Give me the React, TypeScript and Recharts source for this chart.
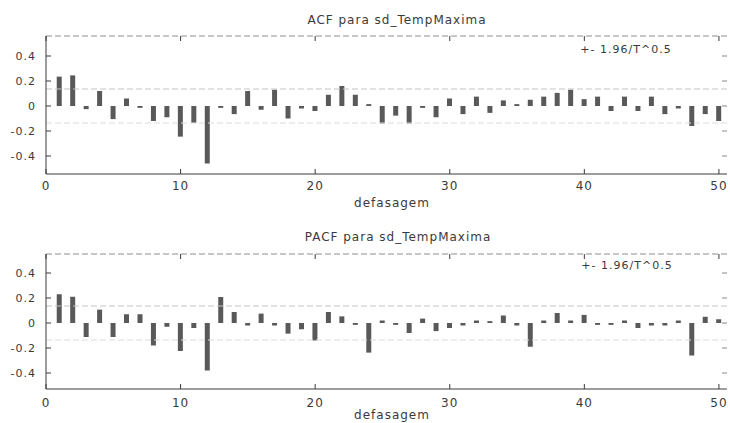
import { Bar, ComposedChart, Line, ReferenceLine, XAxis, YAxis } from 'recharts';

const lags = [
  1, 2, 3, 4, 5, 6, 7, 8, 9, 10, 11, 12, 13, 14, 15, 16, 17, 18, 19, 20, 21, 22, 23, 24, 25,
  26, 27, 28, 29, 30, 31, 32, 33, 34, 35, 36, 37, 38, 39, 40, 41, 42, 43, 44, 45, 46, 47, 48, 49, 50,
];

const acfValues = [
  0.235, 0.245, -0.025, 0.12, -0.105, 0.06, -0.015, -0.12, -0.09, -0.245,
  -0.135, -0.46, -0.015, -0.065, 0.12, -0.03, 0.13, -0.1, -0.02, -0.04,
  0.09, 0.16, 0.09, 0.015, -0.14, -0.077, -0.14, -0.015, -0.09, 0.06,
  -0.065, 0.075, -0.055, 0.045, 0.015, 0.05, 0.075, 0.105, 0.13, 0.055,
  0.075, -0.04, 0.075, -0.04, 0.075, -0.065, -0.02, -0.16, -0.065, -0.12,
];

const pacfValues = [
  0.23, 0.21, -0.112, 0.107, -0.112, 0.07, 0.07, -0.18, -0.03, -0.224,
  -0.04, -0.38, 0.208, 0.088, -0.02, 0.075, -0.02, -0.085, -0.05, -0.14,
  0.088, 0.053, -0.015, -0.237, 0.02, -0.015, -0.08, 0.035, -0.065, -0.04,
  -0.02, 0.02, 0.015, 0.06, -0.02, -0.19, 0.02, 0.08, 0.02, 0.065,
  -0.015, -0.015, 0.02, -0.04, -0.02, -0.02, 0.02, -0.26, 0.05, 0.03,
];

const xTicks = [0, 10, 20, 30, 40, 50];
const yTicks = [-0.4, -0.2, 0, 0.2, 0.4];
const band = 0.136;
const bandLabel = '+- 1.96/T^0.5';

const FONT = '"DejaVu Sans", sans-serif';
const INK = '#3a3a3a';

// mirror axes: tick marks only, no labels
const noLabel = () => <g />;

interface Props {
  values: number[];
  height: number;
  plotHeight: number;
  yDomain: [number, number];
  tickGap: number;
}

function Correlogram({ values, height, plotHeight, yDomain, tickGap }: Props) {
  const data = lags.map((lag, i) => ({ lag, value: values[i] }));
  const tickStyle = { fontSize: 11, fill: INK, fontFamily: FONT, letterSpacing: 1 };
  return (
    <ComposedChart width={730} height={height} data={data} margin={{ top: 35, right: 2, bottom: 0, left: 6 }}>
      <XAxis
        dataKey="lag"
        type="number"
        domain={[0, 50.6]}
        ticks={xTicks}
        allowDataOverflow
        height={height - 36 - plotHeight}
        tickSize={-5}
        tickMargin={tickGap}
        stroke={INK}
        tick={{ ...tickStyle, fontSize: 12 }}
      />
      <XAxis
        xAxisId="top"
        dataKey="lag"
        orientation="top"
        type="number"
        domain={[0, 50.6]}
        ticks={xTicks}
        allowDataOverflow
        height={1}
        tickSize={-5}
        tick={noLabel}
        axisLine={{ stroke: '#8f8f8f', strokeDasharray: '6 3' }}
        tickLine={{ stroke: INK }}
      />
      <YAxis
        type="number"
        domain={yDomain}
        ticks={yTicks}
        allowDataOverflow
        width={40}
        tickSize={-5}
        tickMargin={15}
        stroke={INK}
        tick={tickStyle}
      />
      <YAxis
        yAxisId="r"
        orientation="right"
        type="number"
        domain={yDomain}
        ticks={yTicks}
        allowDataOverflow
        width={1}
        tickSize={-5}
        tick={noLabel}
        axisLine={false}
        tickLine={{ stroke: '#888' }}
      />
      <ReferenceLine y={band} stroke="#c4c4c4" strokeDasharray="6 3" />
      <ReferenceLine y={-band} stroke="#dcdcdc" strokeDasharray="6 3" />
      <Bar dataKey="value" fill="#595959" barSize={5} isAnimationActive={false} />
      <Line
        xAxisId="top"
        yAxisId="r"
        dataKey="value"
        stroke="none"
        dot={false}
        activeDot={false}
        legendType="none"
        isAnimationActive={false}
      />
    </ComposedChart>
  );
}

const textStyle = {
  position: 'absolute' as const,
  fontFamily: FONT,
  color: INK,
  letterSpacing: 1,
  whiteSpace: 'nowrap' as const,
  transform: 'translate(-50%, -50%)',
};

export default function App() {
  return (
    <div style={{ position: 'absolute', left: 0, top: 0, width: 730, height: 423, background: '#fff', overflow: 'hidden' }}>
      <div style={{ position: 'absolute', left: 0, top: 0 }}>
        <Correlogram values={acfValues} height={210} plotHeight={138} yDomain={[-0.544, 0.56]} tickGap={12} />
      </div>
      <div style={{ position: 'absolute', left: 0, top: 218 }}>
        <Correlogram values={pacfValues} height={205} plotHeight={135} yDomain={[-0.528, 0.552]} tickGap={14} />
      </div>
      <div style={{ ...textStyle, left: 397, top: 20, fontSize: 12 }}>ACF para sd_TempMaxima</div>
      <div style={{ ...textStyle, left: 392, top: 203, fontSize: 12 }}>defasagem</div>
      <div style={{ ...textStyle, left: 626, top: 49, fontSize: 11 }}>{bandLabel}</div>
      <div style={{ ...textStyle, left: 398, top: 237, fontSize: 12 }}>PACF para sd_TempMaxima</div>
      <div style={{ ...textStyle, left: 392, top: 415, fontSize: 12 }}>defasagem</div>
      <div style={{ ...textStyle, left: 627, top: 265, fontSize: 11 }}>{bandLabel}</div>
    </div>
  );
}
